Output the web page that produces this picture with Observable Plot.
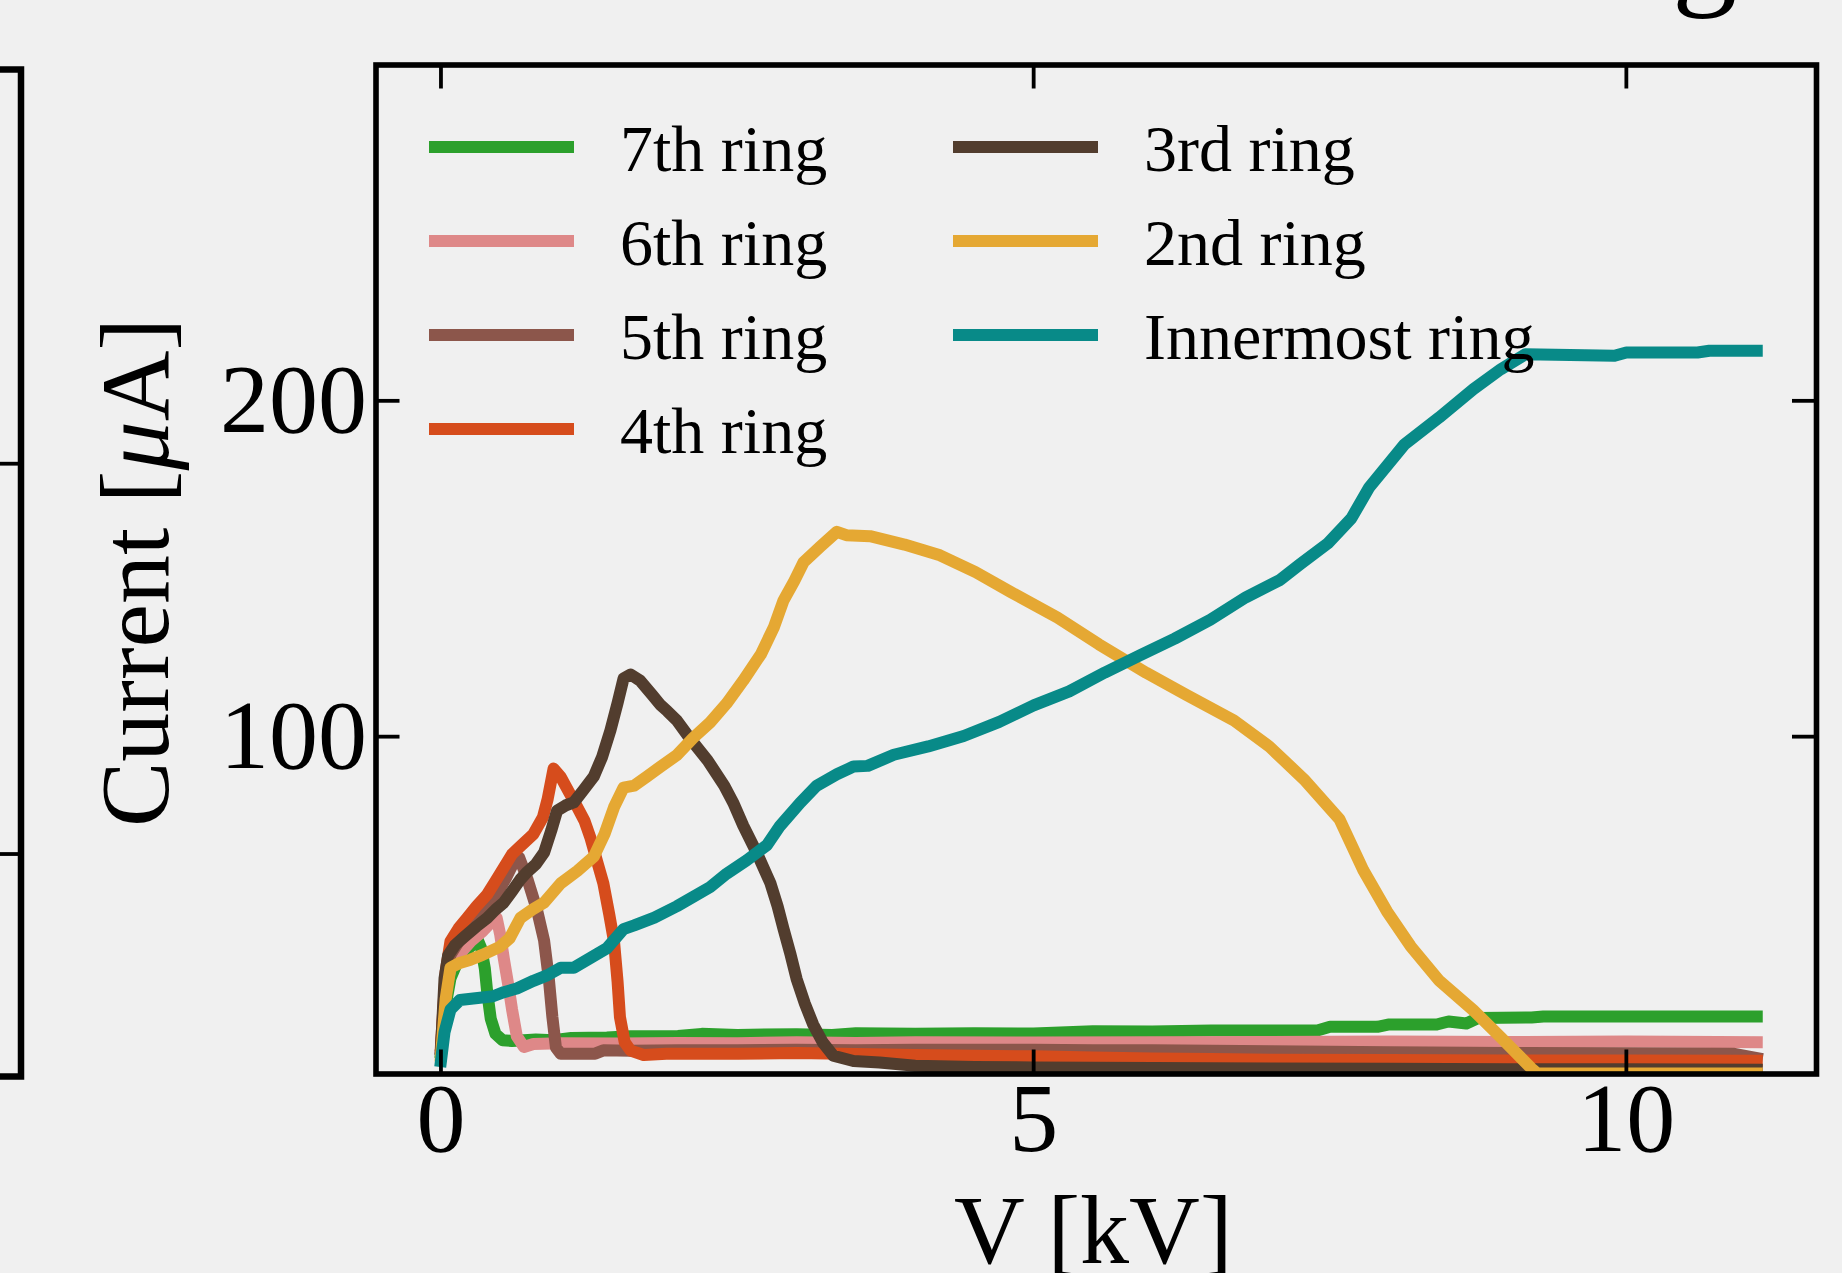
<!DOCTYPE html>
<html><head><meta charset="utf-8">
<script src="https://cdn.jsdelivr.net/npm/d3@7"></script>
<script src="https://cdn.jsdelivr.net/npm/@observablehq/plot@0.6"></script>
<style>
html,body{margin:0;padding:0;background:#f0f0f0;overflow:hidden;width:1842px;height:1273px;}
#wrap{position:relative;width:1842px;height:1273px;overflow:hidden;}
#wrap svg{position:absolute;top:0;}
</style></head><body><div id="wrap"></div>
<script>
// ---- data (V in kV, current in µA) ----
const seriesNames  = ["7th ring","6th ring","5th ring","4th ring","3rd ring","2nd ring","Innermost ring"];
const seriesColors = ["#2ca02c","#de8888","#8c564b","#d64c1c","#523d2e","#e5a833","#088a88"];

const ring7 = [[0,6],[0.04,20],[0.08,28],[0.14,33],[0.22,36.5],[0.28,38.5],[0.31,39.5],[0.34,37],[0.37,31],[0.39,24],[0.42,16],[0.46,11.5],[0.52,9.6],[0.6,9.4],[0.8,9.8],[0.95,9.6],[1.1,10.3],[1.4,10.4],[1.6,10.8],[2.0,10.9],[2.2,11.5],[2.5,11.2],[3.0,11.4],[3.3,11.2],[3.5,11.7],[4.0,11.5],[4.5,11.7],[5.0,11.6],[5.5,12.3],[6.0,12.2],[6.5,12.5],[7.0,12.5],[7.4,12.6],[7.5,13.6],[7.9,13.6],[8.0,14.3],[8.4,14.3],[8.5,15.2],[8.65,14.6],[8.75,16.2],[9.2,16.4],[9.3,16.7],[11.1,16.7]];
const ring6 = [[0,7],[0.04,24],[0.08,31],[0.15,35],[0.25,39],[0.35,42],[0.43,45],[0.47,46],[0.5,41],[0.53,34],[0.57,25.6],[0.6,18.7],[0.64,10.8],[0.7,7.6],[0.78,8.5],[1.0,8.7],[1.5,8.6],[2.0,8.8],[2.5,8.7],[3.0,9.0],[3.5,8.8],[4.0,9.0],[5,8.9],[6,9.0],[7,9.1],[8,9.2],[9,9.1],[10,9.2],[11.1,9.0]];
const ring5 = [[0,7],[0.04,28],[0.08,35],[0.15,39],[0.25,43],[0.35,47],[0.45,52],[0.55,58],[0.62,63],[0.66,64],[0.73,57.5],[0.81,48.4],[0.87,39.3],[0.91,27.9],[0.94,16.5],[0.97,7.4],[1.01,5.6],[1.3,5.6],[1.37,6.6],[1.6,6.5],[2.0,6.6],[2.5,6.6],[3.0,6.8],[3.5,6.6],[4.0,6.8],[5,6.8],[5.5,6.6],[6,6.6],[7,6.3],[8,6.0],[9,5.8],[10,5.7],[10.9,5.6],[11.1,4.3]];
const ring4 = [[0,8],[0.04,30],[0.08,39],[0.15,43],[0.22,46],[0.3,49.5],[0.39,53],[0.46,57],[0.53,61],[0.6,65],[0.66,67],[0.78,71],[0.86,76],[0.9,81.4],[0.95,90.5],[1.01,88],[1.08,83.5],[1.15,79],[1.21,75],[1.26,70],[1.32,62.5],[1.37,56.3],[1.42,47],[1.46,39],[1.49,27],[1.51,16.5],[1.55,9],[1.6,6.5],[1.71,5.2],[1.9,5.6],[2.5,5.6],[3.0,5.8],[3.5,5.5],[4.0,5.2],[4.5,5.0],[5.0,4.8],[5.5,4.5],[6.0,4.2],[6.5,4.0],[7.0,3.8],[8.0,3.7],[9,3.6],[10,3.6],[11.1,3.5]];
const ring3 = [[0,7],[0.03,28],[0.06,34.8],[0.12,38],[0.2,40.5],[0.3,43.5],[0.39,46],[0.46,48.5],[0.53,50.6],[0.6,54],[0.67,57.5],[0.73,59.8],[0.8,62],[0.87,65.5],[0.93,72],[0.98,78],[1.05,79.5],[1.12,80.4],[1.2,84],[1.29,88.2],[1.36,94],[1.43,101.9],[1.49,110],[1.54,117.3],[1.6,118.5],[1.68,116.7],[1.78,112.5],[1.85,109.5],[1.91,107.6],[1.99,104.8],[2.1,99.5],[2.25,92.9],[2.39,85.4],[2.47,80],[2.55,73.5],[2.67,65],[2.78,56.3],[2.84,49.5],[2.89,42.7],[2.95,35],[3.0,27.9],[3.07,20.5],[3.14,14.3],[3.22,9],[3.31,5],[3.48,3.4],[3.7,3.0],[4.0,2.0],[4.5,1.6],[5,1.5],[6,1.3],[7,1.2],[8,1.1],[9,1.0],[10,1.0],[11.1,0.8]];
const ring2 = [[0,5],[0.04,22],[0.08,31.2],[0.15,32.5],[0.25,33.6],[0.35,35],[0.5,37.5],[0.58,40],[0.67,46],[0.77,48.5],[0.87,50.6],[1.01,56.3],[1.15,60],[1.29,64.3],[1.38,71],[1.46,79],[1.54,84.8],[1.63,85.4],[1.74,88.2],[1.85,91],[1.99,94.5],[2.13,99.7],[2.27,104.2],[2.41,109.9],[2.55,116.7],[2.70,124.6],[2.81,132.7],[2.89,140.6],[2.98,146.3],[3.06,152],[3.20,156.6],[3.34,161],[3.42,160],[3.62,159.7],[3.91,157.2],[4.21,154],[4.51,149],[4.81,143],[5.20,135.5],[5.55,127.5],[5.95,119],[6.29,112.4],[6.69,104.8],[6.99,97],[7.28,87.3],[7.58,75.4],[7.78,60.3],[7.98,48],[8.18,37.6],[8.42,27.4],[8.71,18.5],[8.94,10.5],[9.2,1.2],[9.25,-0.3],[11.1,-0.3]];
const ringInner = [[0,3.4],[0.03,12],[0.08,18.7],[0.16,21.6],[0.31,22.2],[0.44,22.7],[0.53,23.9],[0.64,25],[0.78,27.3],[0.90,29],[1.01,31.2],[1.12,31.2],[1.26,34.1],[1.40,37],[1.54,42.7],[1.63,43.8],[1.80,46.1],[1.99,49.5],[2.27,55.2],[2.41,59.2],[2.58,63.2],[2.75,67.7],[2.86,73.4],[3.03,80.3],[3.17,85.4],[3.34,88.8],[3.48,91.1],[3.6,91.3],[3.82,94.6],[4.11,97.1],[4.41,100.2],[4.71,104.4],[5.0,109.3],[5.30,113.5],[5.60,119.1],[5.90,124.3],[6.19,129.2],[6.49,134.8],[6.79,141.5],[7.08,146.7],[7.25,151.4],[7.48,157.5],[7.68,165],[7.83,174.2],[8.13,187.1],[8.42,195],[8.71,203.5],[8.94,209.4],[9.15,213.9],[9.9,213.4],[10.0,214.4],[10.6,214.4],[10.7,214.9],[11.1,214.9]];

const xTicks = [0, 5, 10];
const yTicks = [100, 200];
const xDomain = [-0.548, 11.604];
const yDomain = [-0.45, 300];
const xLabel = "V [kV]";
const yLabel = "Current [μA]";
const titleText = "Current of each ring";
// left neighbour panel (only its right edge is visible)
const leftTicks = [1, 2];
const leftDomain = [0.43, 3.01];

const seriesData = [ring7, ring6, ring5, ring4, ring3, ring2, ringInner];
const series = seriesNames.map((name, i) => ({name, color: seriesColors[i], data: seriesData[i]}));

// ---- layout ----
const W = 1842, H = 1273;
const mL = 375.5, mR = 26, mT = 64.5, mB = 199.5;
const pw = W - mL - mR, ph = H - mT - mB;
const font = "'Liberation Serif', 'Times New Roman', serif";
const tickLen = 24, tickW = 3.8;
const fmt = d => String(d);

const main = Plot.plot({
  width: W, height: H,
  marginLeft: mL, marginRight: mR, marginTop: mT, marginBottom: mB,
  style: {background: "transparent", fontFamily: font, fontSize: "98px", color: "black", overflow: "hidden"},
  x: {domain: xDomain, tickFormat: fmt},
  y: {domain: yDomain, tickFormat: fmt},
  marks: [
    ...series.map(s => Plot.line(s.data, {x: d => d[0], y: d => d[1], stroke: s.color, strokeWidth: 12,
        strokeLinejoin: "round", strokeLinecap: "square", clip: true})),
    Plot.frame({stroke: "black", strokeWidth: 5.6}),
    Plot.tickX(xTicks, {x: d => d, insetBottom: ph - tickLen, strokeWidth: tickW}),
    Plot.tickX(xTicks, {x: d => d, insetTop: ph - tickLen, strokeWidth: tickW}),
    Plot.tickY(yTicks, {y: d => d, insetRight: pw - tickLen, strokeWidth: tickW}),
    Plot.tickY(yTicks, {y: d => d, insetLeft: pw - tickLen, strokeWidth: tickW}),
    Plot.axisX(xTicks, {tickSize: 0, tickPadding: 7, label: null, fontSize: 98, tickFormat: fmt}),
    Plot.axisY(yTicks, {tickSize: 0, tickPadding: 9, label: null, fontSize: 98, tickFormat: fmt}),
    Plot.text([xLabel], {text: d => d, frameAnchor: "bottom", textAnchor: "middle", lineAnchor: "bottom", dy: 188.5, dx: -3, fontSize: 98}),
    Plot.text([yLabel], {text: d => d, frameAnchor: "left", textAnchor: "middle", lineAnchor: "bottom", rotate: -90, dx: -208.5, dy: 3, fontSize: 98})
  ]
});
main.style.left = "0px";

// italic µ like matplotlib mathtext
const svg = d3.select(main);
svg.selectAll("text").filter(function() { return this.textContent === yLabel; }).each(function() {
  const t = d3.select(this);
  t.text(null);
  t.append("tspan").text("Current [");
  t.append("tspan").attr("font-style", "italic").text("μ");
  t.append("tspan").text("A]");
});

// legend (two columns, no frame)
const leg = svg.append("g").attr("font-family", font).attr("font-size", 66).attr("fill", "black").attr("text-anchor", "start");
const colX = [429, 953], rowY0 = 147, rowGap = 94, lineLen = 145, textOff = 191;
series.forEach((s, i) => {
  const col = i < 4 ? 0 : 1, row = i < 4 ? i : i - 4;
  const x0 = colX[col], yc = rowY0 + row * rowGap;
  leg.append("line").attr("x1", x0).attr("x2", x0 + lineLen).attr("y1", yc).attr("y2", yc)
    .attr("stroke", s.color).attr("stroke-width", 12);
  leg.append("text").attr("x", x0 + textOff).attr("y", yc + 24).attr("text-anchor", "start").text(s.name);
});

// title of the figure, mostly above the visible crop
svg.append("text").attr("x", 1737).attr("y", -9).attr("text-anchor", "end")
  .attr("font-family", font).attr("font-size", 130).text(titleText);

document.getElementById("wrap").appendChild(main);

// neighbouring panel on the left: only its right border and ticks show
const leftW = 173, leftRight = 70.5;
const left = Plot.plot({
  width: leftW, height: H,
  marginLeft: 0, marginRight: leftW - leftRight, marginTop: 69, marginBottom: H - 1076,
  style: {background: "transparent"},
  x: {domain: [0, 1], axis: null},
  y: {domain: leftDomain, axis: null},
  marks: [
    Plot.frame({stroke: "black", strokeWidth: 6.5}),
    Plot.tickY(leftTicks, {y: d => d, insetLeft: leftRight - 30, strokeWidth: tickW})
  ]
});
left.style.left = (20.5 - leftRight) + "px";
document.getElementById("wrap").appendChild(left);
</script></body></html>
